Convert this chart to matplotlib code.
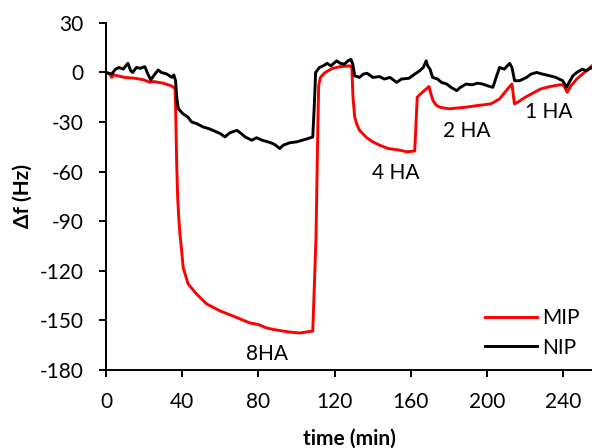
import matplotlib
matplotlib.use('Agg')
import matplotlib.pyplot as plt

plt.rcParams['font.family'] = ['Lato', 'DejaVu Sans']
plt.rcParams['axes.unicode_minus'] = False

# MIP (red) trace
mip_t = [0, 2, 3, 4, 6, 10, 15, 20, 23, 25, 30, 34, 35.5, 36.3, 36.7, 37.1, 37.6, 38.2,
         38.8, 39.7, 40.5, 43.1, 47.5, 52.8, 59.8, 66.6, 75.5, 80, 84.2, 88, 92.8,
         96, 101.7, 105, 108.5, 110.2, 111.2, 111.6, 112.5, 115, 119, 123,
         128, 129, 129.6, 130.5, 131.5, 133, 136.8, 140, 143.6, 148, 154, 158, 162,
         162.7, 163.3, 165, 167, 169.5, 170.5, 171.6, 173, 175, 180, 189, 195, 202,
         206.5, 210, 213, 214.3, 216, 220, 224, 228, 233, 238, 240, 242, 244, 247,
         250, 253, 255]
mip_f = [0, -1, -3, -1.5, -2, -3, -3.5, -4.5, -6, -5.5, -6.5, -8, -9, -10, -30, -55, -75, -88,
         -97.6, -107.9, -118, -127.9, -134, -140, -144.2, -147.3, -151.5, -152.5,
         -154.5, -155.5, -156.4, -157, -157.6, -157, -156.4, -100, -30, -8, -3, 0,
         2.5, 3.5, 4, 3, -15, -27, -31, -35, -39.5, -42, -44, -46, -47, -48, -47.5,
         -30, -15, -13, -11, -8.5, -13, -17, -19.5, -21, -22, -21, -20, -19,
         -16, -11, -7, -19, -18, -15, -12.5, -10, -8.5, -7.5, -7.5, -12, -8, -4,
         -1, 2, 4]

# NIP (black) trace
nip_t = [0, 3, 5, 7, 9, 11.5, 13, 14, 16, 18, 20.4, 22, 23.5, 25, 27.4, 29, 32, 34.6,
         35.6, 36.5, 37.2, 38, 40.4, 43, 45, 47.7, 51, 54, 58, 60, 62.4, 65, 68.7, 71,
         73, 76.5, 79, 82, 85, 87.5, 89, 91.2, 93, 96.5, 100, 103, 106, 108.5, 109.3,
         110, 112, 114, 116, 118, 121, 123, 125, 127, 128.5, 129.5, 130.5, 133, 135,
         137, 140, 143.6, 146, 149, 152.5, 155, 159, 162, 164.6, 166.5, 168, 168.8,
         170, 171.4, 174, 176, 178.8, 181, 184, 186, 189, 192, 195, 197.6, 200, 203,
         205, 206.5, 209, 211.8, 213, 214.4, 217, 220.7, 223, 226, 229, 232.8, 236,
         239.6, 241.7, 243, 245, 247, 250, 252, 255]
nip_f = [0, -1, 2, 3, 2, 5.5, 1, 0, 3, 2.5, 3.5, -1, -4.5, -2, 1.5, 0, -1, -3,
         -1.5, -5, -16, -22, -25, -27, -30, -31, -33, -34, -36, -37, -39, -36.5, -35, -37,
         -39, -41, -39.5, -41, -42, -43, -44, -46, -44, -42.5, -42, -41, -40, -39, -20,
         0, 3, 4, 5.5, 4, 7, 5.5, 5, 7, 8, 5, -2, -3, -1,
         -0.5, -3, -2.5, -4, -3, -6, -4, -3.5, -1, 1, 3, 7, 4,
         2, -3, -4, -6, -7, -9, -11, -9, -7, -7.5, -6.5, -7, -8, -9,
         -2, 3, 2, 5.5, 3, -5, -5, -3, -1, 0, -1, -2, -3,
         -5, -9, -6, -2, 0, 2, 1, 3]

# annotations: (text, t, f)
labels = [('8HA', 84.7, -170), ('4 HA', 151.8, -60.6), ('2 HA', 189.5, -35.5),
          ('1 HA', 232.2, -24.2)]

fig = plt.figure(figsize=(5.92, 4.48), dpi=100)
ax = fig.add_axes([0.179, 0.174, 0.821, 0.775])

ax.plot(mip_t, mip_f, color='#ff0000', lw=2.1, label='MIP')
ax.plot(nip_t, nip_f, color='black', lw=2.1, label='NIP')

for txt, x, y in labels:
    ax.text(x, y, txt, fontsize=15, ha='center', va='center')

ax.set_xlim(0, 255)
ax.set_ylim(-180, 30)
ax.set_xticks(range(0, 241, 40))
ax.set_yticks(range(-180, 31, 30))

for s in ['top', 'right']:
    ax.spines[s].set_visible(False)
for s in ['left', 'bottom']:
    ax.spines[s].set_linewidth(1.4)

ax.tick_params(direction='out', length=5, width=1.4, labelsize=15, pad=11)

ax.set_xlabel('time (min)', fontsize=15, fontweight='bold', labelpad=12)
ax.set_ylabel('Δf (Hz)', fontsize=15, fontweight='bold', labelpad=5)

ax.legend(loc='lower right', frameon=False, fontsize=15, handlelength=2.5,
          handletextpad=0.25, labelspacing=0.45, borderaxespad=0.2)

fig.savefig('out.png', dpi=100)
